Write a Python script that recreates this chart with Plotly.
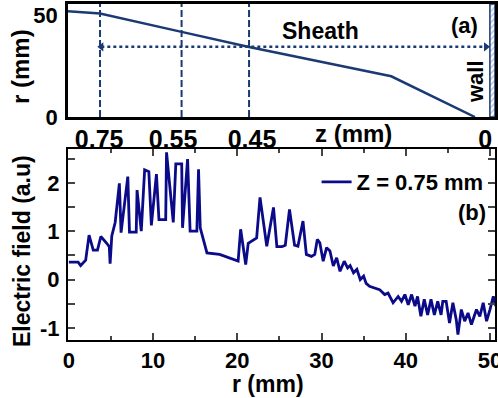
import plotly.graph_objects as go

# ---------------- data ----------------
# top panel (schematic): horizontal display coordinate (0..1 across panel), r in mm
sheath_pos = [0.0, 0.075, 0.266, 0.424, 0.757, 0.953]
sheath_r = [52, 50.8, 41.8, 34.4, 20, 0]
z_marks = ["0.75", "0.55", "0.45"]
z_mark_pos = [0.075, 0.266, 0.424]
z_tick_text = ["0.75", "0.55", "0.45", "0"]
z_tick_pos = [0.073, 0.246, 0.431, 0.977]
arrow_pos = [0.078, 0.979]
arrow_r = [34.5, 34.5]
wall_pos = [0.988, 1.0]
r_top_max = 55.5

# bottom panel: electric field vs r
r_vals = [0, 1.1, 1.4, 2.0, 2.4, 2.9, 3.4, 3.8, 4.5, 4.8, 4.9, 5.1, 5.5, 6.0, 6.2,
          7.0, 7.2, 8.0, 8.1, 8.6, 9.0, 9.5, 9.8, 10.4, 10.7, 11.5, 11.6, 12.4, 12.7,
          13.4, 13.5, 14.1, 14.4, 15.2, 15.4, 15.6, 16.4, 17.9, 20.1, 20.4, 21.0,
          21.3, 22.3, 22.7, 23.5, 24.3, 24.7, 25.3, 25.7, 26.2, 26.8, 27.2, 27.8,
          28.2, 28.8, 29.2, 29.5, 29.8, 30.2, 30.6, 31.0, 31.4, 31.8, 32.2, 32.7,
          33.1, 33.4, 33.8, 34.2, 34.6, 35.0, 35.3, 35.7, 36.3, 36.9, 37.1, 37.5,
          37.9, 38.5, 39.1, 39.5, 39.9, 40.3, 40.7, 41.1, 41.4, 41.8, 42.2, 42.6,
          43.0, 43.4, 43.8, 44.2, 44.4, 44.8, 45.2, 45.6, 46.0, 46.2, 46.6, 47.0,
          47.4, 47.8, 48.4, 48.8, 49.2, 49.6, 50.0, 50.4, 50.7]
e_vals = [0.36, 0.36, 0.29, 0.40, 0.92, 0.61, 0.61, 0.89, 0.75, 0.68, 0.33, 0.90, 1.18,
          1.99, 0.97, 2.13, 0.98, 0.98, 1.85, 1.00, 2.27, 2.23, 1.12, 2.18, 1.24, 1.24,
          2.63, 1.18, 2.39, 2.39, 1.07, 2.49, 1.00, 1.00, 2.28, 1.07, 0.55, 0.52, 0.38,
          1.04, 0.31, 0.75, 0.86, 1.70, 0.69, 1.49, 0.68, 0.68, 0.71, 1.45, 0.71, 0.69,
          1.21, 0.52, 0.48, 0.52, 0.83, 0.76, 0.38, 0.66, 0.59, 0.28, 0.45, 0.17, 0.38,
          0.24, 0.29, 0.14, 0.21, 0.0, 0.07, -0.08, -0.14, -0.17, -0.21, -0.24, -0.31,
          -0.28, -0.48, -0.35, -0.45, -0.31, -0.52, -0.31, -0.55, -0.35, -0.76, -0.41,
          -0.73, -0.41, -0.73, -0.45, -0.73, -0.45, -0.45, -0.90, -0.48, -0.83, -1.14,
          -0.62, -0.86, -0.69, -0.93, -0.62, -0.76, -0.48, -0.86, -0.62, -0.35, -0.55]
series_name = "Z = 0.75 mm"
e_ticks = [-1, 0, 1, 2]
e_tick_text = ["-1", "0", "1", "2"]

# ---------------- styling ----------------
FONT = "Liberation Sans, Arial, sans-serif"
TOPC = "#1b3a73"
BOTC = "#0b0b8a"

fig = go.Figure()

# dashed vertical lines at z positions
for p in z_mark_pos:
    fig.add_trace(go.Scatter(x=[p, p], y=[0, r_top_max], mode="lines",
                             line=dict(color=TOPC, width=2, dash="7px,3px"),
                             showlegend=False, hoverinfo="skip", xaxis="x", yaxis="y"))

# sheath boundary curve
fig.add_trace(go.Scatter(x=sheath_pos, y=sheath_r, mode="lines",
                         line=dict(color=TOPC, width=2.5), showlegend=False,
                         xaxis="x", yaxis="y"))

# dotted double arrow (sheath)
fig.add_trace(go.Scatter(x=arrow_pos, y=arrow_r, mode="lines+markers",
                         line=dict(color=TOPC, width=2.5, dash="3px,3px"),
                         marker=dict(symbol=["triangle-left", "triangle-right"], size=8,
                                     color=TOPC),
                         showlegend=False, xaxis="x", yaxis="y"))

# wall (hatched)
fig.add_trace(go.Scatter(x=[wall_pos[0], wall_pos[1], wall_pos[1], wall_pos[0], wall_pos[0]],
                         y=[0, 0, r_top_max, r_top_max, 0], mode="lines", fill="toself",
                         fillcolor="white",
                         fillpattern=dict(shape="/", fgcolor="#6b8fd6", bgcolor="white",
                                          size=4, solidity=0.4),
                         line=dict(color=TOPC, width=1.5), showlegend=False,
                         xaxis="x", yaxis="y"))

# electric field
fig.add_trace(go.Scatter(x=r_vals, y=e_vals, mode="lines", name=series_name,
                         line=dict(color=BOTC, width=2.8), xaxis="x2", yaxis="y2"))

bold = dict(family=FONT, size=22, color="black", weight="bold")

fig.update_layout(
    width=498, height=398,
    margin=dict(l=68, r=3, t=4, b=58, autoexpand=False),
    paper_bgcolor="white", plot_bgcolor="white",
    font=dict(family=FONT, color="black"),
    showlegend=True,
    legend=dict(x=0.985, xanchor="right", y=0.47, yanchor="middle",
                bgcolor="rgba(255,255,255,0)", font=bold, itemwidth=30,
                tracegroupgap=0),
    xaxis=dict(domain=[0, 1], range=[0, 1], showgrid=False, zeroline=False,
               showline=True, linecolor="black", linewidth=2.5, mirror=True,
               tickvals=z_tick_pos, ticktext=z_tick_text, ticks="",
               tickfont=dict(family=FONT, size=25, color="black", weight="bold"),
               ticklabelstandoff=-2, ticklabeloverflow="allow", anchor="y"),
    yaxis=dict(domain=[0.6637, 1], range=[0, r_top_max], showgrid=False, zeroline=False,
               showline=True, linecolor="black", linewidth=2.5, mirror=True,
               tickvals=[0, 50], ticktext=["0", "50"], ticks="",
               tickfont=bold, ticklabelstandoff=3, anchor="x"),
    xaxis2=dict(domain=[0, 1], range=[-0.1, 50.6], showgrid=False, zeroline=False,
                showline=True, linecolor="black", linewidth=2, mirror="ticks",
                tickvals=[0, 10, 20, 30, 40, 50], ticks="inside", ticklen=7, tickwidth=2,
                minor=dict(dtick=5, tick0=0, ticks="inside", ticklen=4, tickwidth=1.5),
                tickfont=bold, ticklabeloverflow="allow", anchor="y2"),
    yaxis2=dict(domain=[0, 0.5685], range=[-1.25, 2.7], showgrid=False, zeroline=False,
                showline=True, linecolor="black", linewidth=2, mirror="ticks",
                tickvals=e_ticks, ticktext=e_tick_text, ticks="inside", ticklen=7,
                tickwidth=2,
                minor=dict(dtick=0.5, tick0=0, ticks="inside", ticklen=7, tickwidth=1.5),
                tickfont=bold, ticklabelstandoff=2, anchor="x2"),
)

ann = [
    dict(text="r (mm)", x=20, y=67, textangle=-90, font=dict(size=24)),
    dict(text="Electric field (a.u)", x=22, y=251, textangle=-90, font=dict(size=23)),
    dict(text="r (mm)", x=268, y=384, font=dict(size=23)),
    dict(text="z (mm)", x=353, y=133, font=dict(size=24)),
    dict(text="Sheath", x=320, y=31, font=dict(size=23)),
    dict(text="(a)", x=464, y=25, font=dict(size=22)),
    dict(text="wall", x=476, y=82, textangle=-90, font=dict(size=22)),
    dict(text="(b)", x=472, y=212, font=dict(size=22)),
]
for a in ann:
    fig.add_annotation(text=a["text"], xref="paper", yref="paper",
                       x=(a["x"] - 68) / 427, y=(340 - a["y"]) / 336,
                       xanchor="center", yanchor="middle", showarrow=False,
                       textangle=a.get("textangle", 0),
                       font=dict(family=FONT, size=a["font"]["size"], color="black",
                                 weight="bold"))

fig.write_html("out.html", config={"displayModeBar": False},
               post_script="document.body.style.margin='0';document.body.style.padding='0';")
